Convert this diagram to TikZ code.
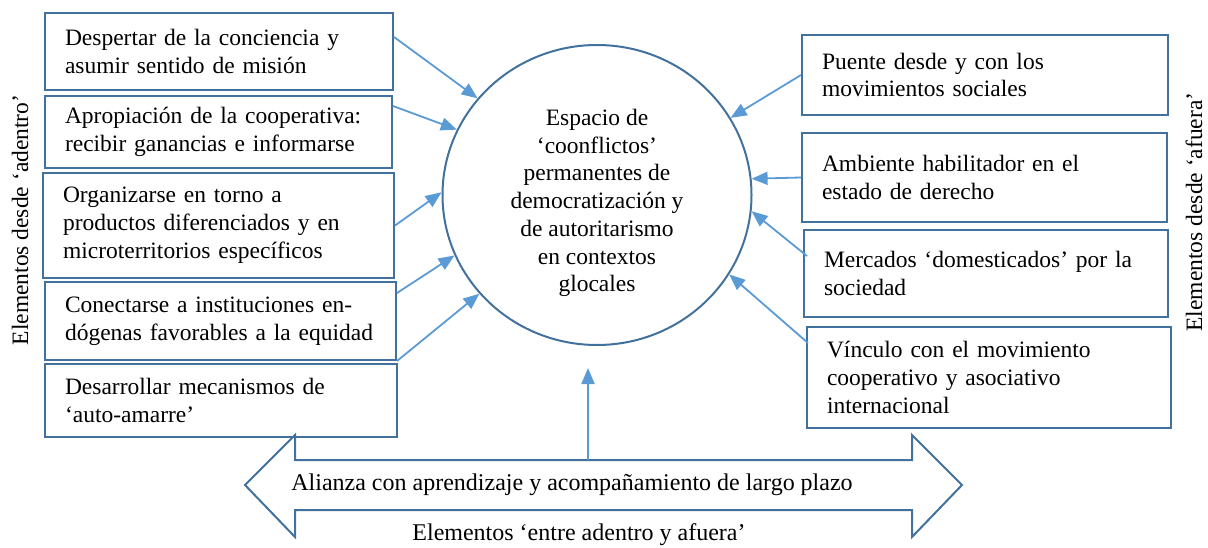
\documentclass[tikz,border=0pt]{standalone}
\usepackage{fontspec}
\setmainfont{Liberation Serif}
\usetikzlibrary{arrows.meta,shapes.geometric,calc}
\definecolor{boxblue}{HTML}{41719C}
\definecolor{arrblue}{HTML}{5B9BD5}
\begin{document}
\begin{tikzpicture}[x=1pt,y=-1pt,
  every node/.style={font=\fontsize{24}{27.6}\selectfont},
  itembox/.style={draw=boxblue,line width=2pt,inner xsep=20pt,inner ysep=0pt,align=left,
    font=\fontsize{23.5}{27.8}\selectfont},
  arr/.style={draw=arrblue,line width=1.8pt,-{Triangle[length=16pt,width=13pt]}}]
\useasboundingbox (0,0) rectangle (1208,548);

% centre
\node[ellipse,draw=boxblue,line width=2pt,minimum width=309pt,minimum height=300pt,inner sep=0pt] (c) at (597,195) {};
\node[align=center,font=\fontsize{23.5}{27.7}\selectfont] (ctext) at (597,203)
  {Espacio de\\‘coonflictos’\\permanentes de\\democratización y\\de autoritarismo\\en contextos\\glocales};

% left boxes
\node[itembox,minimum width=348pt,minimum height=77pt,text width=308pt] (b1) at (219,51.5)
  {\mbox{Despertar de la conciencia y}\\\mbox{asumir sentido de misión}};
\node[itembox,minimum width=347pt,minimum height=72pt,text width=307pt] (b2) at (218.5,132)
  {\mbox{Apropiación de la cooperativa:}\\\mbox{recibir ganancias e informarse}};
\node[itembox,minimum width=351pt,minimum height=105pt,text width=311pt] (b3) at (218.5,225.5)
  {\mbox{Organizarse en torno a}\\\mbox{productos diferenciados y en}\\\mbox{microterritorios específicos}};
\node[itembox,minimum width=351pt,minimum height=78pt,text width=311pt] (b4) at (220.5,321)
  {\mbox{Conectarse a instituciones en-}\\\mbox{dógenas favorables a la equidad}};
\node[itembox,minimum width=352pt,minimum height=73pt,text width=312pt] (b5) at (221,400.5)
  {\mbox{Desarrollar mecanismos de}\\\mbox{‘auto-amarre’}};

% right boxes
\node[itembox,minimum width=366pt,minimum height=80pt,text width=326pt] (r1) at (985,75)
  {\mbox{Puente desde y con los}\\\mbox{movimientos sociales}};
\node[itembox,minimum width=365pt,minimum height=89pt,text width=325pt] (r2) at (984.5,177.5)
  {\mbox{Ambiente habilitador en el}\\\mbox{estado de derecho}};
\node[itembox,minimum width=364pt,minimum height=87pt,text width=324pt] (r3) at (986,273.5)
  {\mbox{Mercados ‘domesticados’ por la}\\\mbox{sociedad}};
\node[itembox,minimum width=364pt,minimum height=101pt,text width=324pt] (r4) at (989,377.5)
  {\mbox{Vínculo con el movimiento}\\\mbox{cooperativo y asociativo}\\\mbox{internacional}};

% side labels
\node[rotate=90,font=\fontsize{23.5}{27.6}\selectfont] (lin) at (20,220) {Elementos desde ‘adentro’};
\node[rotate=90,font=\fontsize{23.5}{27.6}\selectfont] (lout) at (1194,212) {Elementos desde ‘afuera’};

% arrows from left
\draw[arr] ($(b1.north east)+(0,25)$) -- (c.141);
\draw[arr] ($(b2.north east)+(0,11)$) -- (c.155);
\draw[arr] (b3.east) -- (c.179);
\draw[arr] ($(b4.north east)+(0,12)$) -- (c.203);
\draw[arr] (b4.south east) -- (c.220);

% arrows from right
\draw[arr] (r1.west) -- (c.30);
\draw[arr] (r2.west) -- (c.6);
\draw[arr] ($(r3.north west)+(4,27)$) -- (c.-6);
\draw[arr] ($(r4.north west)+(2,17)$) -- (c.-31);

% bottom double arrow
\draw[boxblue,line width=2pt,line join=miter]
  (245,485) -- (295,435) -- (295,460) -- (912,460) -- (912,435) -- (962,485)
  -- (912,537) -- (912,510) -- (295,510) -- (295,537) -- cycle;
\node (al) at (572,485) {Alianza con aprendizaje y acompañamiento de largo plazo};
\node (ent) at (579,535) {Elementos ‘entre adentro y afuera’};
\coordinate (st) at (588,460);
\coordinate (se) at (588,368);
\draw[arr] (st) -- (se);
\end{tikzpicture}
\end{document}
